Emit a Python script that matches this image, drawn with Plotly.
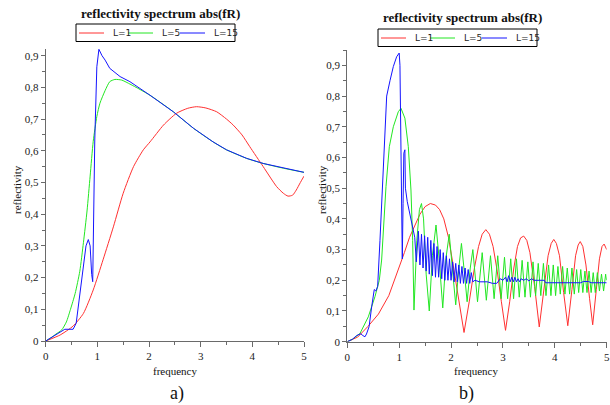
import plotly.graph_objects as go

# ---- panel a) ----
a_red_f = [0, 0.28, 0.53, 0.73, 0.92, 1.11, 1.31, 1.50, 1.70, 1.89, 2.02, 2.28, 2.53, 2.75, 2.92,
           3.10, 3.31, 3.50, 3.63, 3.80, 3.95, 4.21, 4.47, 4.60, 4.69, 4.78, 4.85, 4.93, 5.0]
a_red_v = [0, 0.019, 0.047, 0.087, 0.161, 0.256, 0.36, 0.466, 0.55, 0.603, 0.628, 0.681, 0.718, 0.734, 0.739,
           0.735, 0.723, 0.70, 0.681, 0.65, 0.613, 0.55, 0.487, 0.466, 0.457, 0.46, 0.476, 0.50, 0.52]

a_green_f = [0, 0.1, 0.2, 0.31, 0.40, 0.48, 0.57, 0.66, 0.73, 0.80, 0.86, 0.92, 0.99, 1.05, 1.15, 1.24,
             1.34, 1.47, 1.60, 1.75, 2.02, 2.47, 2.86, 3.24, 3.50, 3.89, 4.21, 4.60, 5.0]
a_green_v = [0, 0.01, 0.022, 0.035, 0.06, 0.10, 0.15, 0.22, 0.31, 0.41, 0.52, 0.63, 0.708, 0.75, 0.79, 0.818,
             0.825, 0.823, 0.813, 0.80, 0.775, 0.723, 0.671, 0.628, 0.603, 0.576, 0.56, 0.545, 0.532]

a_blue_f = [0, 0.1, 0.2, 0.28, 0.37, 0.45, 0.53, 0.59, 0.65, 0.72, 0.78, 0.825, 0.86, 0.89, 0.91, 0.95,
            0.99, 1.03, 1.09, 1.15, 1.24, 1.44, 1.63, 2.02, 2.47, 2.86, 3.24, 3.50, 3.89, 4.21, 4.60, 5.0]
a_blue_v = [0, 0.01, 0.02, 0.027, 0.037, 0.037, 0.037, 0.056, 0.13, 0.21, 0.30, 0.32, 0.30, 0.21, 0.187, 0.634,
            0.865, 0.92, 0.90, 0.886, 0.86, 0.834, 0.818, 0.775, 0.723, 0.671, 0.628, 0.603, 0.576, 0.56, 0.545, 0.532]

# ---- panel b) ----
b_red_f = [0, 0.2, 0.4, 0.6, 0.8, 1.0, 1.1, 1.2, 1.3, 1.4, 1.5, 1.6, 1.7, 1.78, 1.86, 1.95, 2.05, 2.15,
           2.25, 2.35, 2.45, 2.53, 2.60, 2.67, 2.74, 2.81, 2.89, 2.97, 3.05, 3.13, 3.21, 3.28, 3.34, 3.40,
           3.46, 3.52, 3.61, 3.70, 3.79, 3.87, 3.93, 3.98, 4.03, 4.09, 4.17, 4.25, 4.33, 4.40, 4.45, 4.49,
           4.54, 4.60, 4.67, 4.73, 4.80, 4.86, 4.91, 4.95, 5.0]
b_red_v = [0, 0.015, 0.05, 0.09, 0.15, 0.24, 0.29, 0.34, 0.38, 0.415, 0.44, 0.45, 0.445, 0.43, 0.40, 0.34, 0.24, 0.13,
           0.03, 0.13, 0.24, 0.31, 0.35, 0.365, 0.35, 0.31, 0.23, 0.13, 0.037, 0.13, 0.24, 0.31, 0.338, 0.344,
           0.33, 0.29, 0.18, 0.048, 0.17, 0.28, 0.32, 0.333, 0.32, 0.28, 0.16, 0.052, 0.17, 0.28, 0.315, 0.326,
           0.31, 0.25, 0.14, 0.055, 0.17, 0.27, 0.31, 0.318, 0.30]

b_green_f = [0, 0.1, 0.245, 0.405, 0.534, 0.617, 0.662, 0.694, 0.746, 0.81, 0.887, 0.983, 1.035, 1.11, 1.176,
             1.227, 1.26, 1.285, 1.34, 1.39, 1.43, 1.47, 1.52, 1.58, 1.64, 1.71, 1.77, 1.84, 1.90, 1.965,
             2.03, 2.09, 2.15, 2.20, 2.26, 2.31, 2.37, 2.42, 2.51, 2.60, 2.68, 2.76, 2.83, 2.90, 2.965, 3.03,
             3.09, 3.15, 3.205, 3.26, 3.315, 3.37, 3.425, 3.48, 3.53, 3.58, 3.63, 3.68, 3.73, 3.78, 3.83,
             3.88, 3.925, 3.97, 4.015, 4.06, 4.105, 4.15, 4.195, 4.24, 4.285, 4.33, 4.375, 4.42, 4.46, 4.50,
             4.54, 4.58, 4.62, 4.66, 4.70, 4.74, 4.78, 4.82, 4.86, 4.90, 4.94, 4.98, 5.0]
b_green_v = [0, 0.008, 0.027, 0.081, 0.147, 0.20, 0.266, 0.364, 0.505, 0.635, 0.70, 0.749, 0.76, 0.728, 0.635,
             0.494, 0.33, 0.103, 0.33, 0.43, 0.45, 0.40, 0.22, 0.10, 0.28, 0.38, 0.27, 0.11, 0.27, 0.35,
             0.24, 0.12, 0.24, 0.32, 0.22, 0.13, 0.24, 0.30, 0.13, 0.29, 0.135, 0.28, 0.14, 0.28, 0.14, 0.275,
             0.14, 0.27, 0.14, 0.27, 0.145, 0.265, 0.145, 0.26, 0.145, 0.26, 0.15, 0.255, 0.15, 0.255, 0.15,
             0.25, 0.15, 0.25, 0.15, 0.245, 0.155, 0.245, 0.155, 0.24, 0.155, 0.24, 0.155, 0.235, 0.16, 0.235,
             0.16, 0.23, 0.16, 0.23, 0.16, 0.225, 0.16, 0.225, 0.165, 0.22, 0.165, 0.22, 0.2]

b_blue_f = [0, 0.1, 0.18, 0.26, 0.30, 0.34, 0.37, 0.42, 0.47, 0.52, 0.55, 0.585, 0.63, 0.66, 0.694, 0.759,
            0.823, 0.887, 0.951, 1.0, 1.015, 1.03, 1.048, 1.06, 1.075, 1.09, 1.11, 1.12, 1.156, 1.21, 1.27,
            1.30, 1.33, 1.37, 1.40, 1.43, 1.46, 1.49, 1.52, 1.55, 1.58, 1.61, 1.64, 1.67, 1.70, 1.73, 1.76,
            1.79, 1.82, 1.85, 1.88, 1.91, 1.94, 1.97, 2.00, 2.03, 2.06, 2.09, 2.12, 2.15, 2.18, 2.21, 2.24,
            2.27, 2.30, 2.33, 2.36, 2.39, 2.42, 2.46, 2.55, 2.70, 2.80, 2.88, 2.95, 3.00, 3.05, 3.08, 3.11,
            3.14, 3.17, 3.20, 3.23, 3.26, 3.29, 3.32, 3.35, 3.40, 3.45, 3.50, 3.55, 3.60, 3.70, 3.80, 3.82,
            4.20, 4.50, 4.55, 4.65, 4.70, 5.0]
b_blue_v = [0, 0.008, 0.02, 0.026, 0.02, 0.016, 0.025, 0.049, 0.114, 0.17, 0.165, 0.18, 0.33, 0.43, 0.57, 0.80,
            0.85, 0.896, 0.928, 0.94, 0.90, 0.65, 0.277, 0.27, 0.45, 0.614, 0.625, 0.50, 0.456, 0.41, 0.364,
            0.34, 0.26, 0.36, 0.25, 0.35, 0.24, 0.345, 0.23, 0.34, 0.22, 0.33, 0.215, 0.32, 0.21, 0.31, 0.21,
            0.30, 0.205, 0.29, 0.20, 0.28, 0.20, 0.27, 0.20, 0.26, 0.195, 0.255, 0.195, 0.25, 0.19, 0.245, 0.19,
            0.24, 0.19, 0.235, 0.19, 0.225, 0.195, 0.20, 0.195, 0.195, 0.19, 0.19, 0.205, 0.20, 0.21, 0.195, 0.215,
            0.195, 0.21, 0.195, 0.21, 0.195, 0.205, 0.195, 0.205, 0.20, 0.205, 0.198, 0.205, 0.20, 0.20, 0.20, 0.192,
            0.192, 0.192, 0.196, 0.196, 0.192, 0.192]

series_names = ["L=1", "L=5", "L=15"]
x_ticks = [0, 1, 2, 3, 4, 5]
y_ticks = [0, 0.1, 0.2, 0.3, 0.4, 0.5, 0.6, 0.7, 0.8, 0.9]
y_tick_labels = ["0", "0,1", "0,2", "0,3", "0,4", "0,5", "0,6", "0,7", "0,8", "0,9"]
title_text = "<b>reflectivity spectrum abs(fR)</b>"

W, H = 610, 405
colors = ["#ff3030", "#22e622", "#1414ff"]
serif = "Liberation Serif"


def px(x):
    return x / W


def py(y):
    return 1 - y / H


fig = go.Figure()
panel_a = [(a_red_f, a_red_v), (a_green_f, a_green_v), (a_blue_f, a_blue_v)]
panel_b = [(b_red_f, b_red_v), (b_green_f, b_green_v), (b_blue_f, b_blue_v)]
for i, (f, v) in enumerate(panel_a):
    shape = "spline" if i < 2 else "linear"
    fig.add_trace(go.Scatter(x=f, y=v, mode="lines", name=series_names[i], xaxis="x", yaxis="y",
                             line=dict(color=colors[i], width=1, shape=shape, smoothing=0.6)))
for i, (f, v) in enumerate(panel_b):
    fig.add_trace(go.Scatter(x=f, y=v, mode="lines", name=series_names[i], xaxis="x2", yaxis="y2",
                             line=dict(color=colors[i], width=1)))

axis_common = dict(showline=True, linecolor="#6a6a6a", linewidth=1, ticks="outside", ticklen=5,
                   tickcolor="#6a6a6a", showgrid=False, zeroline=False, automargin=False,
                   tickfont=dict(family=serif, size=11, color="#222"))
xa = dict(axis_common, range=[0, 5], tickmode="array", tickvals=x_ticks,
          minor=dict(ticks="outside", ticklen=3, dtick=0.5, tick0=0, tickcolor="#6a6a6a"))
ya = dict(axis_common, tickmode="array", tickvals=y_ticks, ticktext=y_tick_labels, ticklen=4,
          minor=dict(ticks="outside", ticklen=3, dtick=0.05, tick0=0, tickcolor="#6a6a6a"))

fig.update_layout(
    width=W, height=H, margin=dict(l=0, r=0, t=0, b=0),
    paper_bgcolor="white", plot_bgcolor="white", showlegend=False,
    xaxis=dict(xa, domain=[px(45.7), px(304)], anchor="y"),
    yaxis=dict(ya, domain=[py(341), py(49)], range=[0, 0.921], anchor="x"),
    xaxis2=dict(xa, domain=[px(347.3), px(606.7)], anchor="y2"),
    yaxis2=dict(ya, domain=[py(341.7), py(50)], range=[0, 0.95], anchor="x2"),
)

# legend boxes drawn by hand (line sample + label), one per panel
for x0, y0 in [(76, 24), (378, 29)]:
    fig.add_shape(type="rect", xref="paper", yref="paper", x0=px(x0), x1=px(x0 + 159), y0=py(y0),
                  y1=py(y0 + 17.5), line=dict(color="black", width=1), fillcolor="white", layer="above")
    for i, off in enumerate([3, 52, 104]):
        yc = py(y0 + 9)
        fig.add_shape(type="line", xref="paper", yref="paper", x0=px(x0 + off), x1=px(x0 + off + 25),
                      y0=yc, y1=yc, line=dict(color=colors[i], width=1), layer="above")
        fig.add_annotation(text=series_names[i], x=px(x0 + off + 32), y=yc, xref="paper", yref="paper",
                           showarrow=False, xanchor="left", yanchor="middle",
                           font=dict(family="DejaVu Sans", size=9, color="#222"))

texts = [
    (title_text, 160, 14, 13),
    (title_text, 462, 18, 13),
    ("frequency", 175, 371, 11),
    ("frequency", 476, 371, 11),
    ("a)", 177, 393, 18),
    ("b)", 466, 393, 18),
]
for t, x, y, s in texts:
    fig.add_annotation(text=t, x=px(x), y=py(y), xref="paper", yref="paper", showarrow=False,
                       xanchor="center", yanchor="middle", font=dict(family=serif, size=s, color="#111"))
for x in [17, 322]:
    fig.add_annotation(text="reflectivity", x=px(x), y=py(190), xref="paper", yref="paper", showarrow=False,
                       textangle=-90, xanchor="center", yanchor="middle",
                       font=dict(family=serif, size=11, color="#111"))

fig.write_html("out.html", config={"displayModeBar": False},
               post_script="document.body.style.margin='0px';")
